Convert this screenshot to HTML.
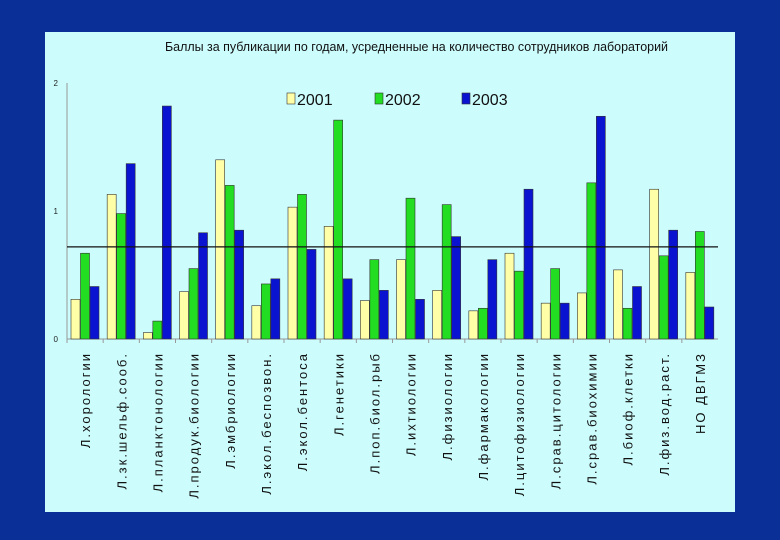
<!DOCTYPE html>
<html><head><meta charset="utf-8"><style>
body{margin:0;background:#0a2f96;}
svg{display:block;font-family:"Liberation Sans",sans-serif;}
</style></head><body>
<svg id="c" width="780" height="540">
<rect x="0" y="0" width="780" height="540" fill="#0a2f96"/>
<rect x="45" y="32" width="690" height="480" fill="#ccfcfc"/>
<text x="165" y="51" font-size="13" textLength="503" lengthAdjust="spacingAndGlyphs" fill="#111">Баллы за публикации по годам,  усредненные на количество сотрудников лабораторий</text>
<g id="legend"></g>
<g id="plot"></g>
</svg>
<script>
const categories=["Л.хорологии","Л.зк.шельф.сооб.","Л.планктонологии","Л.продук.биологии","Л.эмбриологии","Л.экол.беспозвон.","Л.экол.бентоса","Л.генетики","Л.поп.биол.рыб","Л.ихтиологии","Л.физиологии","Л.фармакологии","Л.цитофизиологии","Л.срав.цитологии","Л.срав.биохимии","Л.биоф.клетки","Л.физ.вод.раст.","НО ДВГМЗ"];
const s2001=[0.31,1.13,0.05,0.37,1.40,0.26,1.03,0.88,0.30,0.62,0.38,0.22,0.67,0.28,0.36,0.54,1.17,0.52];
const s2002=[0.67,0.98,0.14,0.55,1.20,0.43,1.13,1.71,0.62,1.10,1.05,0.24,0.53,0.55,1.22,0.24,0.65,0.84];
const s2003=[0.41,1.37,1.82,0.83,0.85,0.47,0.70,0.47,0.38,0.31,0.80,0.62,1.17,0.28,1.74,0.41,0.85,0.25];
const seriesNames=["2001","2002","2003"];
const colors=["#ffffa8","#22dd22","#0a14d0"];
const yTicks=[0,1,2];
const refValue=0.72;
const ns="http://www.w3.org/2000/svg";
const X0=67,X1=718,Y0=339,Y2=83;
const y=v=>Y0-(v/2)*(Y0-Y2);
const gw=(X1-X0)/categories.length;
const x=i=>X0+i*gw;
const plot=document.getElementById('plot');
function mk(t,a,p){const e=document.createElementNS(ns,t);for(const k in a)e.setAttribute(k,a[k]);(p||plot).appendChild(e);return e;}
let e=mk('line',{x1:X0,y1:Y2,x2:X0,y2:Y0,stroke:'#999','stroke-width':1});


e=mk('line',{x1:X0,y1:Y0,x2:X1,y2:Y0,stroke:'#999','stroke-width':1});


yTicks.forEach(t=>{e=mk('text',{x:X0-9,y:y(t)+3,'font-size':8,'text-anchor':'end',fill:'#222'});e.textContent=t;

});
const all=[s2001,s2002,s2003];
categories.forEach((c,i)=>{
  e=mk('line',{x1:x(i),y1:Y0,x2:x(i),y2:Y0+4,stroke:'#999'});
  
  
  all.forEach((s,k)=>{
    const bx=x(i)+4+k*9.5;
    e=mk('rect',{x:bx,y:y(s[i]),width:9,height:Y0-y(s[i]),fill:colors[k],stroke:'#333','stroke-width':0.6});
    
    
  });
  const cx=x(i)+gw/2+5;
  e=mk('text',{transform:`translate(${cx},352) rotate(-90)`,'font-size':13,'text-anchor':'end',fill:'#111','letter-spacing':'2'});
  e.textContent=c;
  
  
});
e=mk('line',{x1:X0,y1:y(refValue),x2:X1,y2:y(refValue),stroke:'#111','stroke-width':1.2});


const lg=document.getElementById('legend');
const lx=[287,375,462];
seriesNames.forEach((n,k)=>{
  e=mk('rect',{x:lx[k],y:93,width:8,height:11,fill:colors[k],stroke:'#333','stroke-width':0.6},lg);
  
  
  e=mk('text',{x:lx[k]+10,y:105,'font-size':16,fill:'#111'},lg);
  e.textContent=n;
  
  
});
</script>
</body></html>
